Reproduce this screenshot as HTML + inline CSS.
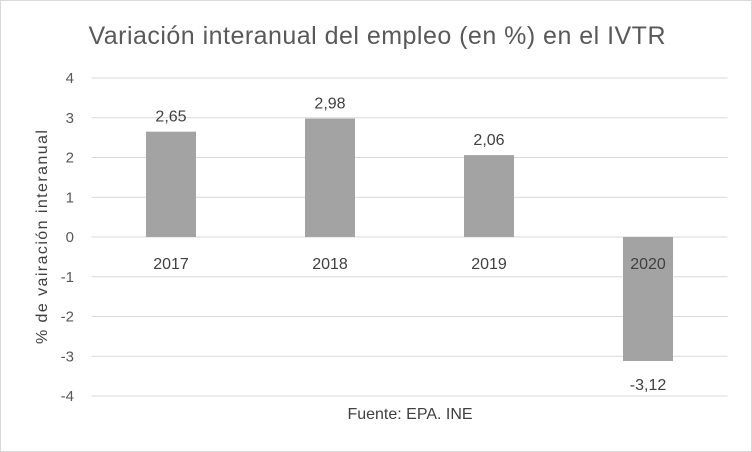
<!DOCTYPE html>
<html><head><meta charset="utf-8"><style>
body{margin:0;background:#fff;}
svg{display:block;font-family:"Liberation Sans",Arial,sans-serif;}
</style></head><body>
<svg id="c" width="752" height="452">
<rect x="0.5" y="0.5" width="751" height="451" fill="#fff" stroke="#d9d9d9"/>
<text x="377" y="44" text-anchor="middle" font-size="25" textLength="577" fill="#595959">Variación interanual del empleo (en %) en el IVTR</text>
<text transform="translate(47,237) rotate(-90)" text-anchor="middle" font-size="16" textLength="214" fill="#404040">% de vairación interanual</text>
<text x="410" y="419" text-anchor="middle" font-size="16" fill="#404040">Fuente: EPA. INE</text>
<g id="grid"></g><g id="bars"></g><g id="labels"></g>
</svg>
<script>
const categories=["2017","2018","2019","2020"];
const values=[2.65,2.98,2.06,-3.12];
const valueLabels=["2,65","2,98","2,06","-3,12"];
const ticks=[4,3,2,1,0,-1,-2,-3,-4];
const NS="http://www.w3.org/2000/svg";
const x0=91.5,bw=159,barW=50;
const y=v=>237-v*39.75;
const xc=i=>x0+bw*(i+0.5);
function mk(t,a,p,txt){const e=document.createElementNS(NS,t);for(const k in a)e.setAttribute(k,a[k]);if(txt!==undefined)e.textContent=txt;document.getElementById(p).appendChild(e);return e;}
ticks.forEach(t=>{
 const l=mk('line',{x1:x0,x2:x0+bw*4,y1:y(t),y2:y(t),stroke:'#d9d9d9','stroke-width':1},'grid');
 
 
 const tx=mk('text',{x:74,y:y(t)+5,'text-anchor':'end','font-size':15,fill:'#595959'},'grid',String(t));
 
 
});
values.forEach((v,i)=>{
 const top=Math.min(y(v),y(0)),h=Math.abs(y(v)-y(0));
 const r=mk('rect',{x:xc(i)-barW/2,y:top,width:barW,height:h,fill:'#a3a3a3'},'bars');
 
 
 const c=mk('text',{x:xc(i),y:269,'text-anchor':'middle','font-size':16,fill:'#404040'},'labels',categories[i]);
 
 
 const ly=v>=0?y(v)-10:y(v)+29;
 const d=mk('text',{x:xc(i),y:ly,'text-anchor':'middle','font-size':16,fill:'#404040'},'labels',valueLabels[i]);
 
 
});
</script>
</body></html>
